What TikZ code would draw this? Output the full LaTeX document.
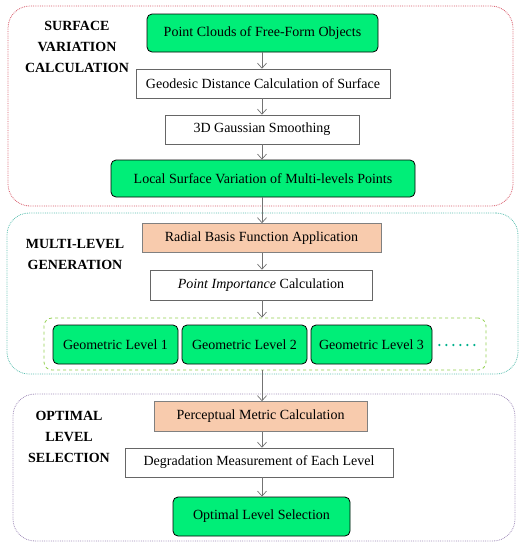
\documentclass[tikz,border=0pt]{standalone}
\usepackage{fontspec}
\setmainfont{Liberation Serif}
\usetikzlibrary{arrows.meta}
\definecolor{boxgreen}{RGB}{0,238,120}
\definecolor{salmon}{RGB}{248,203,173}
\definecolor{secred}{RGB}{215,90,105}
\definecolor{secteal}{RGB}{90,190,175}
\definecolor{seclime}{RGB}{146,208,80}
\definecolor{secpurple}{RGB}{160,140,185}
\definecolor{dotteal}{RGB}{0,176,140}
\tikzset{
  greenbox/.style={draw=black, line width=0.8pt, fill=boxgreen, rounded corners=5pt, font=\fontsize{14}{16}\selectfont},
  whitebox/.style={draw=gray!80!black, line width=0.6pt, fill=white, font=\fontsize{14}{16}\selectfont},
  orangebox/.style={draw=gray, line width=0.6pt, fill=salmon, font=\fontsize{14}{16}\selectfont},
  secbox/.style={line width=0.8pt, densely dotted, rounded corners=22pt},
  sectitle/.style={align=center, font=\fontsize{14}{21}\selectfont\bfseries},
  flow/.style={draw=gray!90!black, line width=0.7pt, -{Straight Barb[length=5pt,width=9pt]}}
}
\begin{document}
\begin{tikzpicture}[x=1pt, y=-1pt]
\useasboundingbox (0,0) rectangle (525,550);
% section frames
\node[secbox, draw=secred, minimum width=505pt, minimum height=200pt] (secA) at (260.5, 106) {};
\node[secbox, draw=secteal, minimum width=511pt, minimum height=161pt] (secB) at (262.5, 293.5) {};
\node[secbox, draw=secpurple, minimum width=502pt, minimum height=147pt] (secC) at (264, 467.5) {};
\coordinate (col) at (262, 0);
% section titles
\node[sectitle] (titleA) at (77, 47) {SURFACE\\VARIATION\\CALCULATION};
\node[sectitle] (titleB) at (75, 254) {MULTI-LEVEL\\GENERATION};
\node[sectitle] (titleC) at (69, 437) {OPTIMAL\\LEVEL\\SELECTION};
% surface variation
\node[greenbox, minimum width=231pt, minimum height=38pt] (pcloud) at (262.5, 33) {Point Clouds of Free-Form Objects};
\node[whitebox, minimum width=254pt, minimum height=29pt] (geodesic) at (263, 83.5) {Geodesic Distance Calculation of Surface};
\node[whitebox, minimum width=194pt, minimum height=29pt] (gauss) at (262, 129.5) {3D Gaussian Smoothing};
\node[greenbox, minimum width=304pt, minimum height=37pt] (lsv) at (263, 178.5) {Local Surface Variation of Multi-levels Points};
% multi-level generation
\node[orangebox, minimum width=239pt, minimum height=29pt] (rbf) at (261.5, 238) {Radial Basis Function Application};
\node[whitebox, minimum width=222pt, minimum height=30pt] (pimp) at (261, 285) {\textit{Point Importance} Calculation};
\node[draw=seclime, line width=0.8pt, dashed, rounded corners=8pt, minimum width=442pt, minimum height=52pt] (levels) at (265, 344) {};
\node[greenbox, minimum width=125pt, minimum height=39pt] (lvl1) at (115.5, 344.5) {Geometric Level 1};
\node[greenbox, minimum width=125pt, minimum height=39pt] (lvl2) at (244.5, 344.5) {Geometric Level 2};
\node[greenbox, minimum width=121pt, minimum height=39pt] (lvl3) at (371.5, 344.5) {Geometric Level 3};
\coordinate (dotend) at (480, 345);
% optimal level selection
\node[orangebox, minimum width=213pt, minimum height=30pt] (pmc) at (260.5, 416.5) {Perceptual Metric Calculation};
\node[whitebox, minimum width=268pt, minimum height=29pt] (degr) at (259, 462.5) {Degradation Measurement of Each Level};
\node[greenbox, minimum width=177pt, minimum height=39pt] (optsel) at (261.5, 516.5) {Optimal Level Selection};
% connectors
\draw[flow] (pcloud.south -| col) -- (geodesic.north -| col);
\draw[flow] (geodesic.south -| col) -- (gauss.north -| col);
\draw[flow] (gauss.south -| col) -- (lsv.north -| col);
\draw[flow] (lsv.south -| col) -- (rbf.north -| col);
\draw[flow] (rbf.south -| col) -- (pimp.north -| col);
\draw[flow] (pimp.south -| col) -- (levels.north -| col);
\draw[flow] (levels.south -| col) -- (pmc.north -| col);
\draw[flow] (pmc.south -| col) -- (degr.north -| col);
\draw[flow] (degr.south -| col) -- (optsel.north -| col);
\draw[dotteal, line width=2.5pt, line cap=round, dash pattern=on 0pt off 7pt] ([xshift=7pt]lvl3.east |- dotend) -- (dotend);
\end{tikzpicture}
\end{document}
